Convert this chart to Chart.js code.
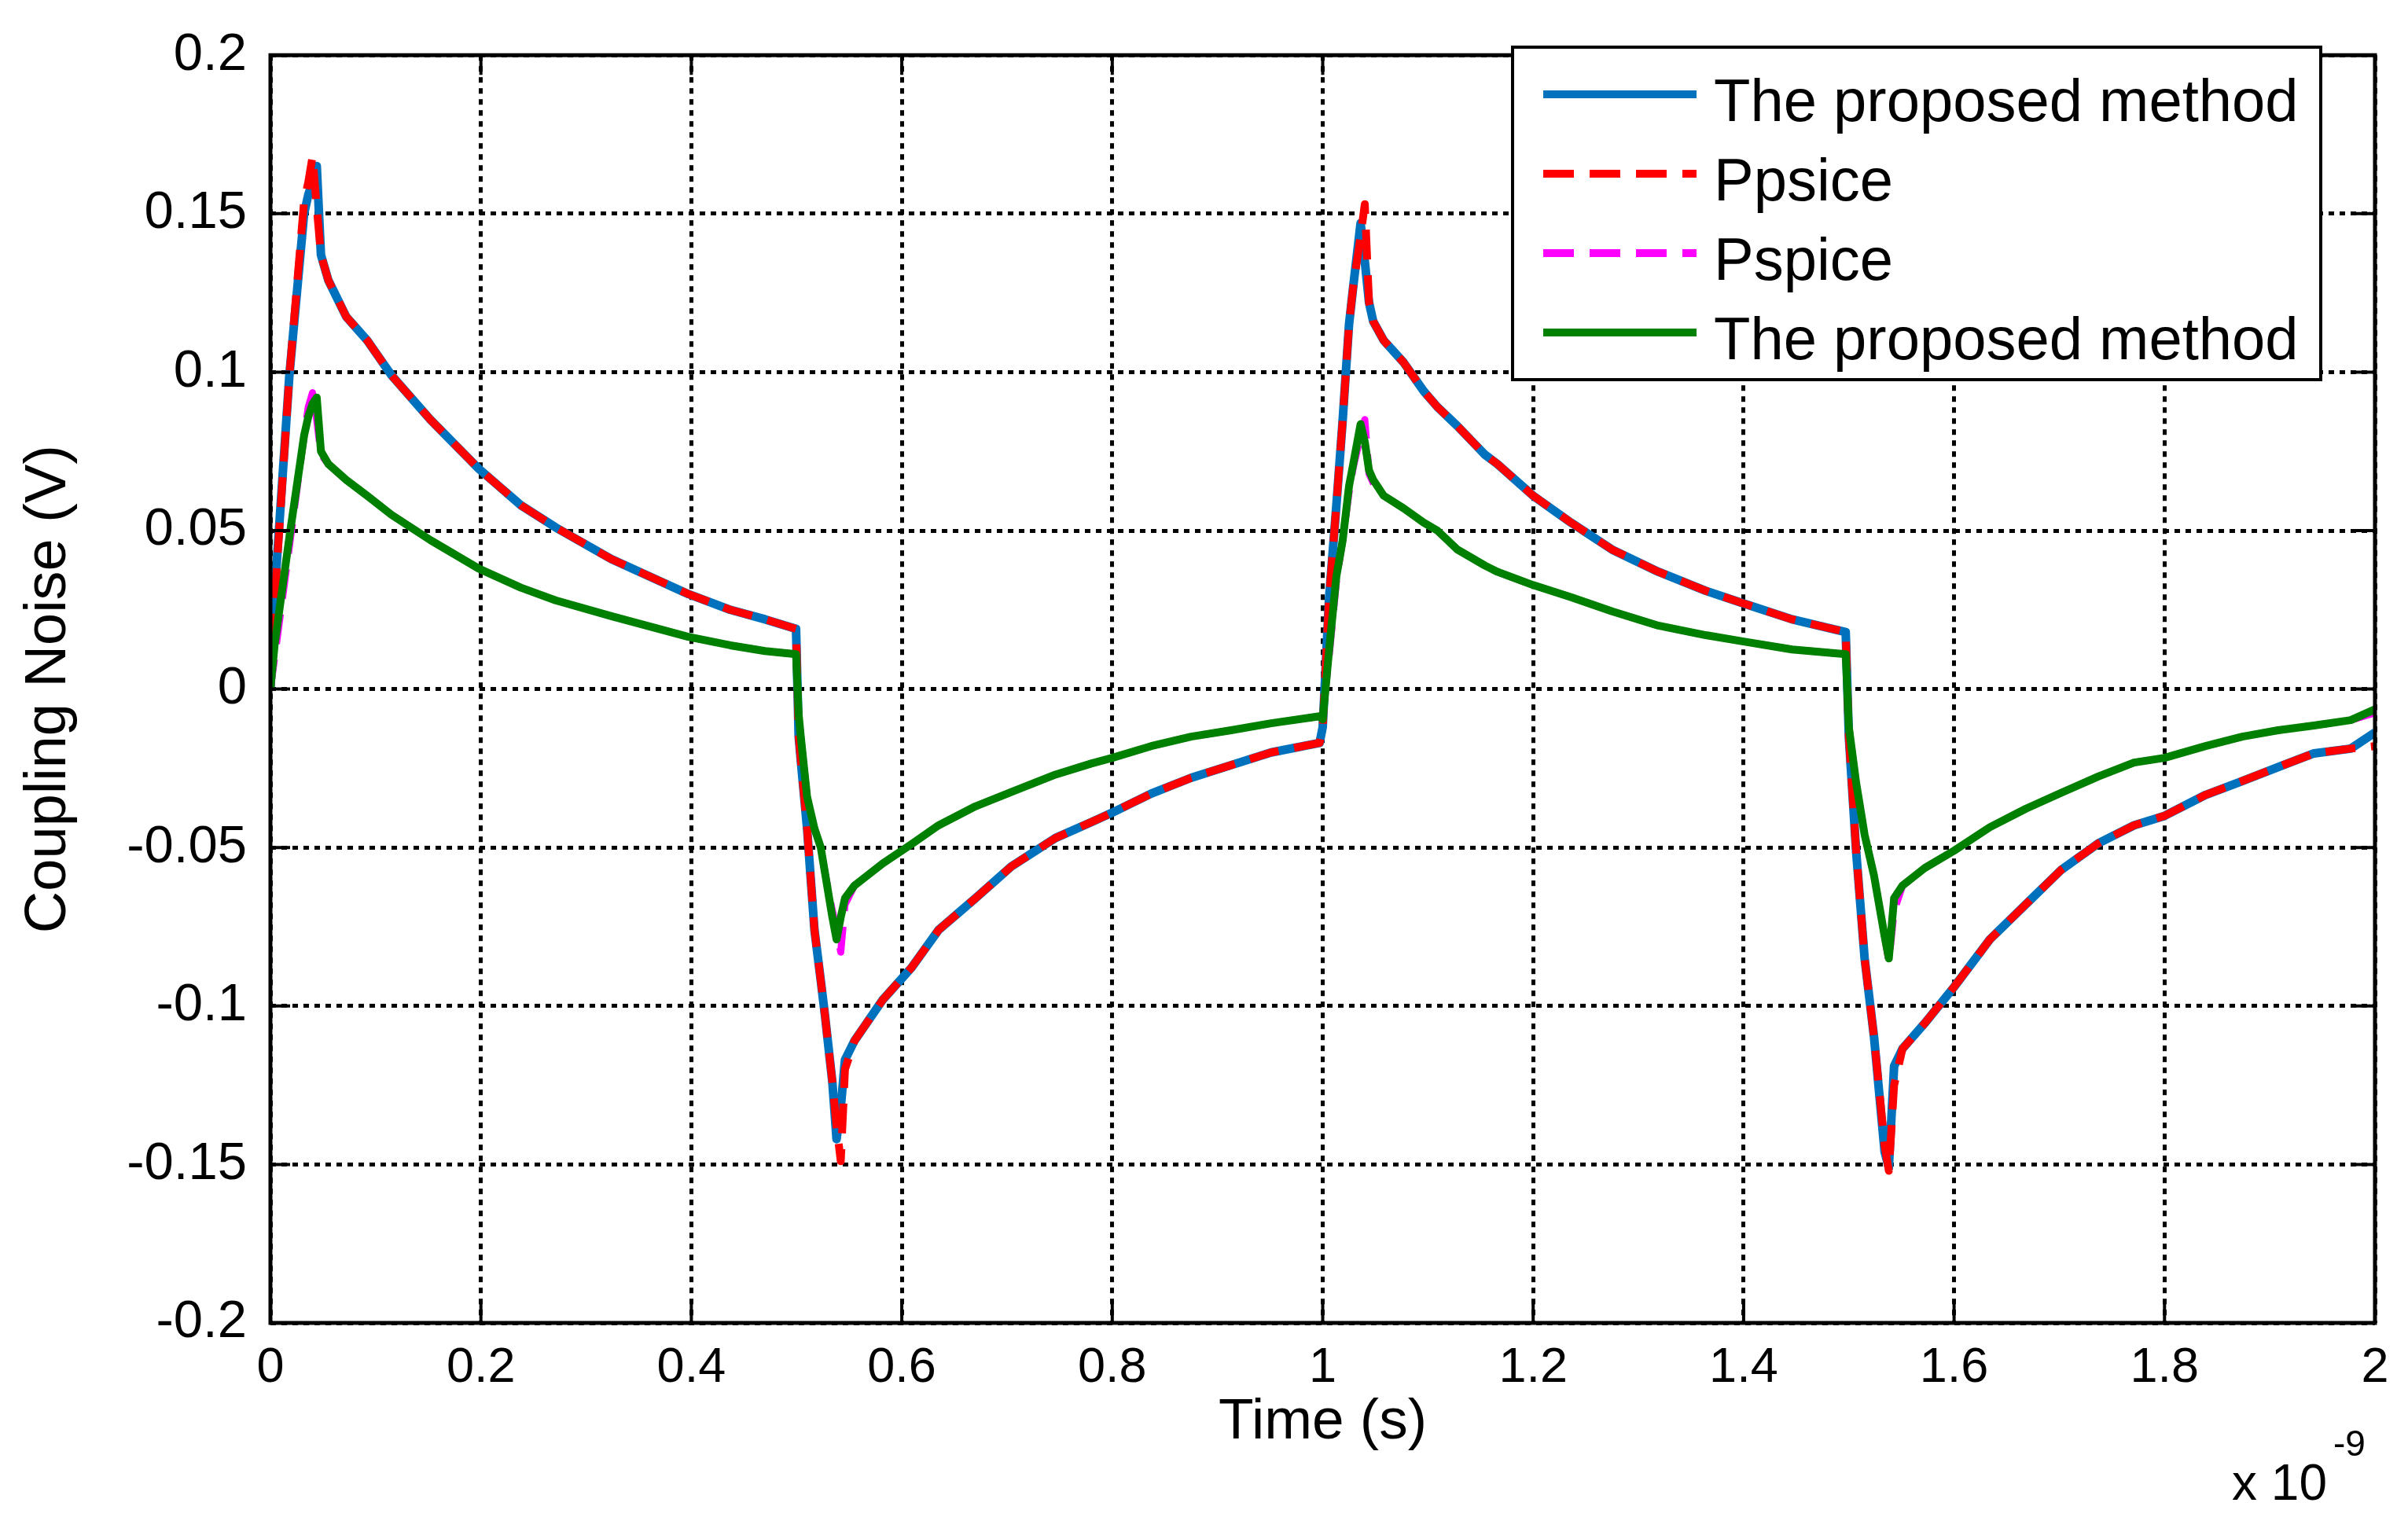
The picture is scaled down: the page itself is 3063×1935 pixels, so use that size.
<!DOCTYPE html>
<html>
<head>
<meta charset="utf-8">
<script src="https://cdn.jsdelivr.net/npm/chart.js@4.4.1/dist/chart.umd.min.js"></script>
<style>
  html, body { margin: 0; padding: 0; background: #fff; }
  canvas { display: block; }
</style>
</head>
<body>
<canvas id="noise" width="3063" height="1935"></canvas>
<script>
// Coupling noise vs time, two periods of 1 ns.
// Time in ns (axis shows x 10^-9 s).
const TIME_NS = [
  0, 0.004, 0.018, 0.032, 0.036, 0.040, 0.044, 0.048, 0.055, 0.072, 0.092,
  0.115, 0.152, 0.198, 0.238, 0.271, 0.324, 0.397, 0.437, 0.470, 0.4995,
  0.502, 0.504, 0.510, 0.517, 0.523, 0.527, 0.534, 0.538, 0.542, 0.546, 0.555,
  0.582, 0.609, 0.635, 0.670, 0.704, 0.746, 0.780, 0.800, 0.837, 0.875, 0.913,
  0.951, 0.997,
  1.0, 1.006, 1.013, 1.019, 1.025, 1.029, 1.036, 1.040, 1.044, 1.048, 1.058,
  1.077, 1.096, 1.109, 1.128, 1.154, 1.166, 1.2, 1.236, 1.275, 1.319, 1.364,
  1.4, 1.446, 1.497,
  1.5, 1.507, 1.515, 1.524, 1.534, 1.538, 1.543, 1.551, 1.572, 1.6, 1.634,
  1.668, 1.702, 1.737, 1.771, 1.8, 1.839, 1.874, 1.908, 1.942, 1.977, 2.0
];

// blue solid
const PROPOSED_1 = [
  0, 0.030, 0.099, 0.150, 0.156, 0.160, 0.165, 0.137, 0.129, 0.1175, 0.110,
  0.099, 0.085, 0.0695, 0.058, 0.051, 0.041, 0.030, 0.025, 0.022, 0.019,
  -0.015, -0.0225, -0.044, -0.076, -0.092, -0.103, -0.124, -0.142, -0.132, -0.117, -0.111,
  -0.098, -0.088, -0.076, -0.066, -0.056, -0.047, -0.042, -0.039, -0.033, -0.028, -0.024,
  -0.020, -0.017,
  -0.012, 0.0285, 0.058, 0.085, 0.115, 0.127, 0.147, 0.135, 0.122, 0.116, 0.110,
  0.103, 0.094, 0.089, 0.083, 0.074, 0.071, 0.061, 0.0525, 0.044, 0.037, 0.031,
  0.027, 0.022, 0.018,
  -0.015, -0.0515, -0.085, -0.110, -0.146, -0.151, -0.119, -0.1135, -0.1055, -0.094, -0.079,
  -0.068, -0.057, -0.0487, -0.043, -0.040, -0.0334, -0.029, -0.0246, -0.0203, -0.0188, -0.0137
];

// red dashed
const PPSICE = [
  0, 0.028, 0.099, 0.154, 0.160, 0.168, 0.152, 0.137, 0.129, 0.1175, 0.110,
  0.099, 0.085, 0.0695, 0.058, 0.051, 0.041, 0.030, 0.025, 0.022, 0.019,
  -0.015, -0.0225, -0.044, -0.076, -0.092, -0.103, -0.124, -0.138, -0.149, -0.120, -0.111,
  -0.098, -0.088, -0.076, -0.066, -0.056, -0.047, -0.042, -0.039, -0.033, -0.028, -0.024,
  -0.020, -0.017,
  -0.012, 0.0285, 0.058, 0.085, 0.115, 0.127, 0.143, 0.153, 0.122, 0.116, 0.110,
  0.103, 0.094, 0.089, 0.083, 0.074, 0.071, 0.061, 0.0525, 0.044, 0.037, 0.031,
  0.027, 0.022, 0.018,
  -0.015, -0.0515, -0.085, -0.110, -0.144, -0.152, -0.125, -0.1135, -0.1055, -0.094, -0.079,
  -0.068, -0.057, -0.0487, -0.043, -0.040, -0.0334, -0.029, -0.0246, -0.0203, -0.0188, -0.018
];

// magenta dashed
const PSPICE = [
  0, 0.010, 0.045, 0.080, 0.089, 0.0935, 0.085, 0.074, 0.071, 0.066, 0.061,
  0.055, 0.047, 0.038, 0.032, 0.028, 0.023, 0.0165, 0.0138, 0.012, 0.011,
  -0.008, -0.015, -0.034, -0.044, -0.050, -0.058, -0.070, -0.076, -0.083, -0.068, -0.062,
  -0.055, -0.049, -0.043, -0.037, -0.0325, -0.027, -0.0235, -0.0217, -0.018, -0.015, -0.013,
  -0.0108, -0.0086,
  -0.008, 0.010, 0.034, 0.047, 0.062, 0.070, 0.080, 0.085, 0.068, 0.065, 0.061,
  0.057, 0.0525, 0.050, 0.044, 0.039, 0.037, 0.0328, 0.029, 0.0245, 0.020, 0.017,
  0.015, 0.0125, 0.011,
  -0.012, -0.0297, -0.046, -0.059, -0.078, -0.086, -0.070, -0.062, -0.0565, -0.051, -0.0436,
  -0.0378, -0.0327, -0.0276, -0.0232, -0.0217, -0.018, -0.015, -0.013, -0.0115, -0.0098, -0.0075
];

// green solid
const PROPOSED_2 = [
  0, 0.014, 0.048, 0.080, 0.086, 0.090, 0.092, 0.075, 0.071, 0.066, 0.061,
  0.055, 0.047, 0.038, 0.032, 0.028, 0.023, 0.0165, 0.0138, 0.012, 0.011,
  -0.008, -0.015, -0.034, -0.044, -0.050, -0.058, -0.072, -0.079, -0.072, -0.066, -0.062,
  -0.055, -0.049, -0.043, -0.037, -0.0325, -0.027, -0.0235, -0.0217, -0.018, -0.015, -0.013,
  -0.0108, -0.0086,
  -0.0096, 0.012, 0.0356, 0.047, 0.064, 0.071, 0.0836, 0.078, 0.069, 0.066, 0.061,
  0.057, 0.0525, 0.050, 0.044, 0.039, 0.037, 0.0328, 0.029, 0.0245, 0.020, 0.017,
  0.015, 0.0125, 0.011,
  -0.012, -0.0297, -0.046, -0.059, -0.078, -0.085, -0.066, -0.062, -0.0565, -0.051, -0.0436,
  -0.0378, -0.0327, -0.0276, -0.0232, -0.0217, -0.018, -0.015, -0.013, -0.0115, -0.0098, -0.0064
];

const LEGEND_LABELS = ['The proposed method', 'Ppsice', 'Pspice', 'The proposed method'];
const X_TICKS = [0, 0.2, 0.4, 0.6, 0.8, 1, 1.2, 1.4, 1.6, 1.8, 2];
const Y_TICKS = [-0.2, -0.15, -0.1, -0.05, 0, 0.05, 0.1, 0.15, 0.2];

const FONT = '"Liberation Sans", Arial, sans-serif';
const BLUE = '#0072BD', RED = '#FF0000', MAGENTA = '#FF00FF', GREEN = '#008000';

function pts(vals) {
  return TIME_NS.map((t, i) => ({ x: t, y: vals[i] }));
}

function series(label, vals, color, width, dash, order) {
  return {
    label, data: pts(vals), borderColor: color, backgroundColor: color,
    borderWidth: width, borderDash: dash, pointRadius: 0, tension: 0,
    fill: false, order, borderJoinStyle: 'round',
  };
}

// Frame, inward ticks, in-plot legend and exponent label (MATLAB look)
const framePlugin = {
  id: 'frame',
  afterDraw(chart) {
    const { ctx, chartArea: a, scales } = chart;
    ctx.save();
    ctx.strokeStyle = '#000';
    ctx.lineWidth = 4;
    const tl = 25;
    ctx.beginPath();
    X_TICKS.forEach(v => {
      const x = scales.x.getPixelForValue(v);
      ctx.moveTo(x, a.bottom); ctx.lineTo(x, a.bottom - tl);
      ctx.moveTo(x, a.top); ctx.lineTo(x, a.top + tl);
    });
    Y_TICKS.forEach(v => {
      const y = scales.y.getPixelForValue(v);
      ctx.moveTo(a.left, y); ctx.lineTo(a.left + tl, y);
      ctx.moveTo(a.right, y); ctx.lineTo(a.right - tl, y);
    });
    ctx.stroke();
    ctx.lineWidth = 5;
    ctx.strokeRect(a.left, a.top, a.right - a.left, a.bottom - a.top);

    // legend box
    const bx = 1924, by = 60, bw = 1028, bh = 423;
    ctx.fillStyle = '#fff';
    ctx.fillRect(bx, by, bw, bh);
    ctx.lineWidth = 4;
    ctx.strokeRect(bx, by, bw, bh);
    const ds = chart.data.datasets;
    ctx.font = '76px ' + FONT;
    ctx.textAlign = 'left';
    ctx.textBaseline = 'alphabetic';
    LEGEND_LABELS.forEach((txt, i) => {
      const d = ds[i];
      const ly = by + 60 + i * 101;
      ctx.beginPath();
      ctx.strokeStyle = d.borderColor;
      ctx.lineWidth = 10;
      ctx.setLineDash(d.borderDash && d.borderDash.length ? [39, 20] : []);
      ctx.moveTo(1963, ly); ctx.lineTo(2158, ly);
      ctx.stroke();
      ctx.setLineDash([]);
      ctx.fillStyle = '#000';
      ctx.fillText(txt, 2180, ly + 34);
    });

    // x 10^-9
    ctx.fillStyle = '#000';
    ctx.font = '64px ' + FONT;
    ctx.textAlign = 'right';
    ctx.fillText('x 10', 2960, 1908);
    ctx.font = '46px ' + FONT;
    ctx.textAlign = 'left';
    ctx.fillText('-9', 2968, 1852);
    ctx.restore();
  }
};

new Chart(document.getElementById('noise'), {
  type: 'line',
  data: {
    datasets: [
      series(LEGEND_LABELS[0], PROPOSED_1, BLUE, 11, [], 4),
      series(LEGEND_LABELS[1], PPSICE, RED, 10, [38, 20], 3),
      series(LEGEND_LABELS[2], PSPICE, MAGENTA, 9, [38, 20], 2),
      series(LEGEND_LABELS[3], PROPOSED_2, GREEN, 10, [], 1),
    ],
  },
  options: {
    responsive: false,
    animation: false,
    devicePixelRatio: 1,
    layout: { padding: { top: 62, right: 42, left: 0, bottom: 0 } },
    plugins: { legend: { display: false }, tooltip: { enabled: false } },
    scales: {
      x: {
        type: 'linear', min: 0, max: 2,
        afterBuildTicks: s => { s.ticks = X_TICKS.map(v => ({ value: v })); },
        afterFit: s => { s.height = 252; },
        ticks: {
          padding: 20, color: '#000', maxRotation: 0, autoSkip: false,
          font: { size: 63, family: FONT },
          callback: v => String(Math.round(v * 10) / 10),
        },
        grid: { color: '#000', lineWidth: 5, drawTicks: false },
        border: { display: false, dash: [7, 7] },
        title: {
          display: true, text: 'Time (s)', color: '#000',
          font: { size: 73, family: FONT }, padding: { top: 0, bottom: 81 },
        },
      },
      y: {
        type: 'linear', min: -0.2, max: 0.2,
        afterBuildTicks: s => { s.ticks = Y_TICKS.map(v => ({ value: v })); },
        afterFit: s => { s.width = 344; },
        ticks: {
          padding: 30, color: '#000', autoSkip: false,
          font: { size: 67, family: FONT },
          callback: v => { const r = Math.round(v * 100) / 100; return r === 0 ? '0' : String(r); },
        },
        grid: { color: '#000', lineWidth: 5, drawTicks: false },
        border: { display: false, dash: [7, 7] },
        title: {
          display: true, text: 'Coupling Noise (V)', color: '#000',
          font: { size: 74, family: FONT }, padding: { top: 18, bottom: 0 },
        },
      },
    },
  },
  plugins: [framePlugin],
});
</script>
</body>
</html>
